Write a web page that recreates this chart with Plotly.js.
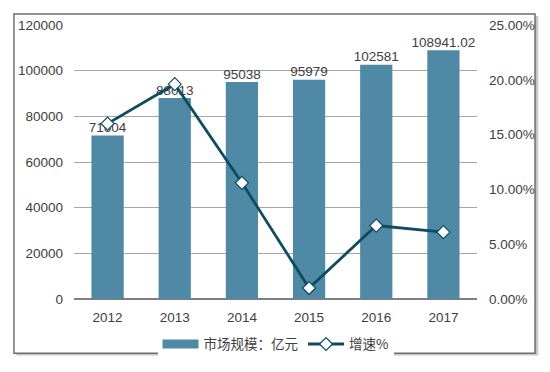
<!DOCTYPE html>
<html><head><meta charset="utf-8">
<script src="https://cdn.plot.ly/plotly-3.0.1.min.js"></script>
<style>html,body{margin:0;padding:0;background:#fff}#c{width:550px;height:372px}</style>
</head><body><div id="c"></div>
<script>
const years = ['2012','2013','2014','2015','2016','2017'];
const marketSize = [71604, 88013, 95038, 95979, 102581, 108941.02];
const marketLabels = ['71604','88013','95038','95979','102581','108941.02'];
const growth = [16.0, 19.6, 10.6, 1.0, 6.7, 6.1];
const leftTicks = [0, 20000, 40000, 60000, 80000, 100000, 120000];
const rightTicks = [0, 5, 10, 15, 20, 25];

const fam = '"Liberation Sans", Arial, "Noto Sans CJK SC", sans-serif';
const barColor = '#5089a5';
const lineColor = '#0d4c5e';

const traces = [
  {type: 'bar', x: years, y: marketSize, name: '市场规模：亿元', showlegend: false,
   marker: {color: barColor}, width: 0.48},
  {type: 'scatter', mode: 'lines', x: [years[0], years[1]], y: [null, null], name: '市场规模：亿元',
   showlegend: true, line: {color: barColor, width: 9}},
  {type: 'scatter', mode: 'lines+markers', x: years, y: growth, yaxis: 'y2', name: '增速%',
   line: {color: lineColor, width: 2.8},
   marker: {symbol: 'diamond', size: 10, color: '#ffffff', line: {color: lineColor, width: 1.2}}},
  {type: 'scatter', mode: 'text', x: years, y: marketSize, text: marketLabels,
   textposition: 'top center', showlegend: false, cliponaxis: false,
   textfont: {family: fam, size: 13.5, color: '#404040'}}
];

const layout = {
  width: 550, height: 372,
  margin: {l: 74, r: 73, t: 25, b: 69},
  paper_bgcolor: '#ffffff', plot_bgcolor: '#ffffff',
  font: {family: fam, size: 13, color: '#404040'},
  showlegend: true,
  legend: {orientation: 'h', x: 0.5, xanchor: 'center', y: -0.165, yanchor: 'middle',
           font: {family: '"Noto Sans CJK SC", "Liberation Sans", sans-serif', size: 13.5, color: '#404040'},
           itemwidth: 36, traceorder: 'normal'},
  xaxis: {type: 'category', showgrid: false, showline: false, zeroline: false,
          ticks: '', ticklabelstandoff: 8, tickfont: {size: 13.5}},
  yaxis: {range: [0, 120000], tickvals: leftTicks, ticktext: leftTicks.map(String),
          showgrid: true, gridcolor: '#a6a6a6', gridwidth: 1,
          zeroline: true, zerolinecolor: '#7f7f7f', zerolinewidth: 1.5,
          showline: false, ticks: '', ticklabelstandoff: 10, tickfont: {size: 13.5}},
  yaxis2: {range: [0, 25], overlaying: 'y', side: 'right', tickvals: rightTicks,
           ticktext: rightTicks.map(v => v.toFixed(2) + '%'),
           showgrid: false, zeroline: false, showline: false, ticks: '',
           ticklabelstandoff: 11, tickfont: {size: 13.5}},
  shapes: [
    {type: 'rect', xref: 'paper', yref: 'paper', x0: -0.143, x1: 1.152, y0: -0.206, y1: 1.033,
     line: {width: 0}, fillcolor: '#c8c8c8', layer: 'below'},
    {type: 'rect', xref: 'paper', yref: 'paper', x0: -0.149, x1: 1.144, y0: -0.198, y1: 1.040,
     line: {color: '#6e6e6e', width: 1.5}, fillcolor: '#ffffff', layer: 'below'}
  ]
};

Plotly.newPlot('c', traces, layout, {displayModeBar: false, staticPlot: true});
</script></body></html>
